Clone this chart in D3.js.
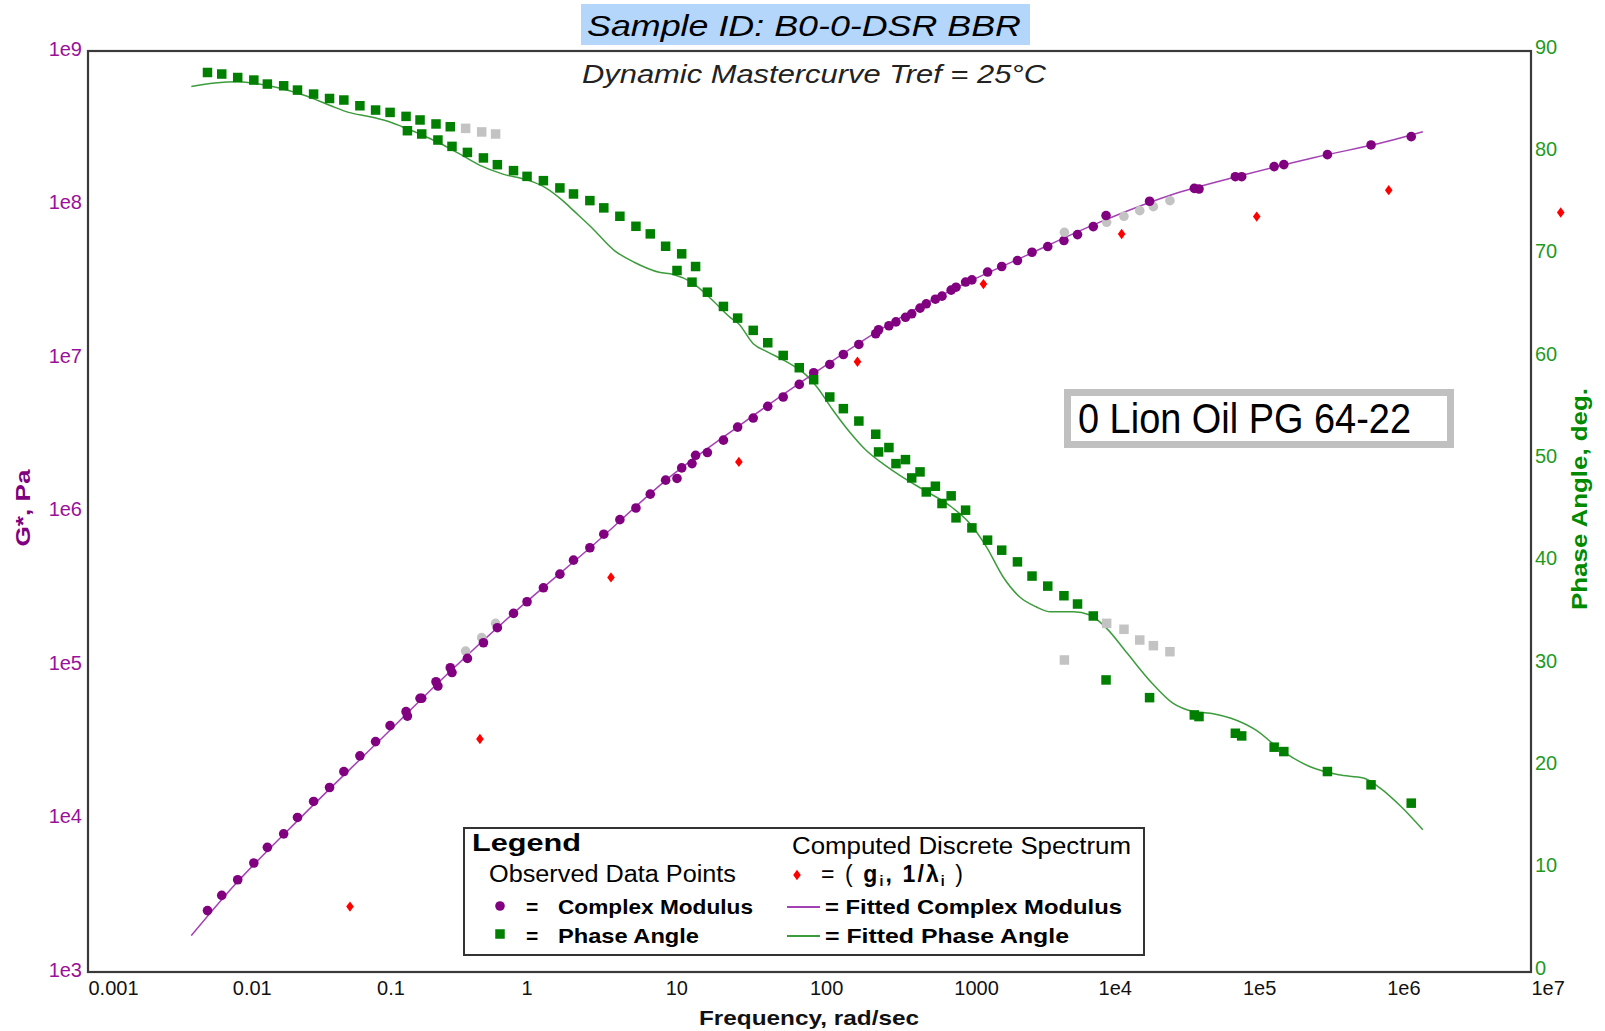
<!DOCTYPE html>
<html><head><meta charset="utf-8">
<script src="https://cdn.jsdelivr.net/npm/d3@7"></script>
<style>body{margin:0;background:#fff}svg{display:block}</style>
</head><body>
<svg id="c" width="1605" height="1031"></svg>
<script>
// ---------- observed data (frequency rad/s, |G*| Pa, phase deg) ----------
const freq = [
 0.00673,0.00845,0.0109,0.0141,0.0175,0.0227,0.0283,0.0366,0.0472,0.0593,0.0766,0.0984,0.124,0.160,0.200,0.258,0.324,0.414,0.535,0.668,
 0.1635,0.2055,0.266,0.333,0.426,0.550,0.687,0.889,1.103,1.432,1.863,2.315,3.006,3.754,4.852,6.270,7.880,10.07,13.01,16.24,
 12.07,15.34,19.60,25.33,31.77,40.73,51.37,65.73,84.92,106.9,138.2,171.7,219.8,287.7,355.1,462.6,583.4,745.4,958.5,1207,
 301.1,397.4,510.9,644.3,828.5,1036,1335,1714,2148,2761,3483,4478,5797,7201,9261,11460,15110,19440,24160,31470,
 5840,11350,22740,46420,89370,166000,50030,98860,193700,388300,778900,1479000
];
const gstar = [
 2512,3155,3990,5129,6486,7943,10160,12910,15920,20230,25590,31700,40270,49660,60670,77800,95940,123300,150700,186600,
 46450,60670,72940,89330,110400,139600,175000,216800,258200,318400,390800,482000,580700,711200,885100,1.054e6,1.297e6,1.600e6,1.923e6,2.323e6,
 1.641e6,2.051e6,2.421e6,2.917e6,3.548e6,4.064e6,4.842e6,5.572e6,6.730e6,8.017e6,9.078e6,1.054e7,1.225e7,1.439e7,1.622e7,1.841e7,2.113e7,2.415e7,2.767e7,3.126e7,
 1.528e7,1.718e7,1.941e7,2.254e7,2.529e7,2.891e7,3.228e7,3.631e7,3.945e7,4.315e7,4.887e7,5.321e7,5.821e7,6.368e7,7.178e7,7.656e7,8.375e7,9.120e7,9.683e7,1.059e8,
 6.592e7,8.472e7,1.050e8,1.274e8,1.517e8,1.766e8,1.262e8,1.517e8,1.820e8,2.113e8,2.443e8,2.767e8
];
const phase = [
 87.90,87.75,87.41,87.16,86.77,86.60,86.18,85.79,85.36,85.21,84.65,84.23,84.00,83.61,83.26,82.87,82.60,82.44,82.09,81.89,
 82.21,81.89,81.30,80.68,80.09,79.55,78.89,78.31,77.75,77.33,76.62,76.03,75.38,74.67,73.85,72.87,72.13,70.92,70.18,68.94,
 68.55,67.41,66.43,65.04,63.90,62.70,61.49,60.25,59.05,57.88,56.19,55.05,53.84,52.55,51.25,50.07,48.87,47.47,46.53,45.13,
 50.82,49.68,48.28,46.91,45.78,44.38,43.40,42.20,41.22,40.08,38.69,37.71,36.77,35.96,34.79,34.07,33.49,32.44,31.89,31.30,
 30.49,28.54,26.81,25.12,23.33,21.97,24.96,23.07,21.54,19.59,18.29,16.50
];
// 1 = point excluded from the fit (drawn grey)
const excluded = [
 0,0,0,0,0,0,0,0,0,0,0,0,0,0,0,0,0,1,1,1,
 0,0,0,0,0,0,0,0,0,0,0,0,0,0,0,0,0,0,0,0,
 0,0,0,0,0,0,0,0,0,0,0,0,0,0,0,0,0,0,0,0,
 0,0,0,0,0,0,0,0,0,0,0,0,0,0,0,1,1,1,1,1,
 1,0,0,0,0,0,0,0,0,0,0,0
];
// ---------- computed discrete spectrum (1/lambda_i, g_i) ----------
const specFreq = [0.0654,0.520,4.21,32.4,215,1605,14560,125700,1.033e6,1.607e7];
const specG    = [2667,32990,372200,2.104e6,9.46e6,3.03e7,6.43e7,8.34e7,1.24e8,8.87e7];
// ---------- fitted curves ----------
const fitGFreq = [0.0052,0.01,0.0316,0.1,0.316,1,3.16,10,31.6,100,316,1000,3162,1e4,31620,1e5,316200,1e6,1.78e6];
const fitG     = [1726,3548,10720,30900,89130,239900,602600,1.585e6,3.548e6,7.586e6,1.549e7,2.818e7,4.645e7,7.586e7,1.148e8,1.549e8,2.023e8,2.570e8,2.979e8];
const fitPFreq = [0.0052,0.00753,0.0109,0.0137,0.0204,0.0323,0.0481,0.0640,0.0899,0.1265,0.1503,0.1995,0.2805,0.3954,0.526,0.7413,1.104,1.466,1.950,2.317,3.076,4.446,6.095,9.078,11.40,15.17,21.33,28.05,32.28,40.74,51.40,69.98,95.28,112.2,145.5,189.7,246.6,322.1,419.8,623.7,926.8,1291,1683,2193,2851,3715,4688,6745,8770,11460,15920,23660,32960,45920,63970,83370,123600,184100,292400,464500,690200,901600,1.256e6,1.78e6];
const fitP     = [86.54,86.87,87.0,86.87,86.44,85.63,84.65,84.0,83.58,83.02,82.60,81.89,80.91,79.77,78.80,77.99,77.40,76.68,75.38,74.40,72.78,70.50,69.36,68.38,68.16,67.41,65.62,63.99,63.35,61.40,60.58,59.60,58.30,57.2,54.9,52.77,50.98,49.68,48.55,47.08,45.62,43.83,41.55,38.62,36.67,35.69,35.20,35.20,34.88,33.58,31.14,28.22,26.27,25.45,25.22,24.80,23.66,21.71,20.08,19.27,18.95,17.97,16.17,13.90];
// ---------- tick labels ----------
const xTickVals = [1e-3,1e-2,1e-1,1,10,100,1000,1e4,1e5,1e6,1e7];
const xTickLabels = ["0.001","0.01","0.1","1","10","100","1000","1e4","1e5","1e6","1e7"];
const yLTickVals = [1e3,1e4,1e5,1e6,1e7,1e8,1e9];
const yLTickLabels = ["1e3","1e4","1e5","1e6","1e7","1e8","1e9"];
const yRTickVals = [0,10,20,30,40,50,60,70,80,90];

// ---------- drawing ----------
const svg = d3.select("#c");
const L=88, R=1531, T=51, B=972;
const x = d3.scaleLog().domain([1e-3,1e7]).range([L,R]);
const yG = d3.scaleLog().domain([1e3,1e9]).range([B,T]);
const yP = d3.scaleLinear().domain([0,90]).range([B,T]);

const PURPLE="#800080", GREEN="#007f00", GREY="#c3c3c3", RED="#ff0000";
const FIT_P="#a441b4", FIT_G="#3c9c3c";
const FONT="'Liberation Sans', Arial, sans-serif";
const NARROW="'Liberation Sans Narrow','Arial Narrow','Liberation Sans',Arial,sans-serif";

svg.append("rect").attr("width",1605).attr("height",1031).attr("fill","#fff");

// title
svg.append("rect").attr("x",581).attr("y",4).attr("width",449).attr("height",41).attr("fill","#b5d6fb");
svg.append("text").attr("x",587).attr("y",36).attr("font-family",FONT).attr("font-style","italic")
  .attr("font-size",30).attr("textLength",434).attr("lengthAdjust","spacingAndGlyphs").attr("fill","#000")
  .text("Sample ID: B0-0-DSR BBR");

// frame
svg.append("rect").attr("x",L).attr("y",T).attr("width",R-L).attr("height",B-T)
  .attr("fill","none").attr("stroke","#3a3a3a").attr("stroke-width",2.2);

// subtitle
svg.append("text").attr("x",582).attr("y",83).attr("font-family",FONT).attr("font-style","italic")
  .attr("font-size",26).attr("textLength",464).attr("lengthAdjust","spacingAndGlyphs").attr("fill","#222")
  .text("Dynamic Mastercurve Tref = 25°C");

// axes
const gx = svg.append("g").attr("transform",`translate(0,${B})`)
  .call(d3.axisBottom(x).tickValues(xTickVals).tickFormat((d,i)=>xTickLabels[i]).tickSize(0).tickPadding(9));
gx.select(".domain").remove();
gx.selectAll("text").attr("text-anchor","start").attr("font-family",FONT).attr("font-size",20).attr("fill","#111");

const gl = svg.append("g").attr("transform",`translate(${L},0)`)
  .call(d3.axisLeft(yG).tickValues(yLTickVals).tickFormat((d,i)=>yLTickLabels[i]).tickSize(0).tickPadding(6));
gl.select(".domain").remove();
gl.selectAll("text").attr("dy","0.2em").attr("font-family",FONT).attr("font-size",20).attr("fill","#9a109a");

const gr = svg.append("g").attr("transform",`translate(${R},0)`)
  .call(d3.axisRight(yP).tickValues(yRTickVals).tickFormat(d3.format("d")).tickSize(0).tickPadding(4));
gr.select(".domain").remove();
gr.selectAll("text").attr("dy","0.1em").attr("font-family",FONT).attr("font-size",20).attr("fill","#1f9a1f");

// axis titles
svg.append("text").attr("transform","translate(30,508) rotate(-90)").attr("text-anchor","middle")
  .attr("font-family",FONT).attr("font-weight","bold").attr("font-size",21).attr("fill",PURPLE)
  .attr("textLength",77).attr("lengthAdjust","spacingAndGlyphs").text("G*, Pa");
svg.append("text").attr("transform","translate(1587,499) rotate(-90)").attr("text-anchor","middle")
  .attr("font-family",FONT).attr("font-weight","bold").attr("font-size",22).attr("fill","#008a00")
  .attr("textLength",222).attr("lengthAdjust","spacingAndGlyphs").text("Phase Angle, deg.");
svg.append("text").attr("x",699).attr("y",1025)
  .attr("font-family",FONT).attr("font-weight","bold").attr("font-size",21).attr("fill","#111")
  .attr("textLength",220).attr("lengthAdjust","spacingAndGlyphs").text("Frequency, rad/sec");

// fitted lines
const fitPData = fitPFreq.map((f,i)=>[f,fitP[i]]);
const fitGData = fitGFreq.map((f,i)=>[f,fitG[i]]);
svg.append("path").datum(fitPData).attr("fill","none").attr("stroke",FIT_G).attr("stroke-width",1.5)
  .attr("d", d3.line().x(d=>x(d[0])).y(d=>yP(d[1])).curve(d3.curveMonotoneX));
svg.append("path").datum(fitGData).attr("fill","none").attr("stroke",FIT_P).attr("stroke-width",1.5)
  .attr("d", d3.line().x(d=>x(d[0])).y(d=>yG(d[1])).curve(d3.curveMonotoneX));

// observed points
const obs = freq.map((f,i)=>({f, g:gstar[i], p:phase[i], ex:excluded[i]}));
svg.append("g").selectAll("circle").data(obs).join("circle")
  .attr("cx",d=>x(d.f)).attr("cy",d=>yG(d.g)).attr("r",4.8)
  .attr("fill",d=>d.ex?GREY:PURPLE);
const S=9.5;
svg.append("g").selectAll("rect").data(obs).join("rect")
  .attr("x",d=>x(d.f)-S/2).attr("y",d=>yP(d.p)-S/2).attr("width",S).attr("height",S)
  .attr("fill",d=>d.ex?GREY:GREEN);

// discrete spectrum diamonds
const diamond = "M0,-5.2L3.8,0L0,5.2L-3.8,0Z";
svg.append("g").selectAll("path").data(specFreq.map((f,i)=>[f,specG[i]])).join("path")
  .attr("transform",d=>`translate(${x(d[0])},${yG(d[1])})`).attr("d",diamond).attr("fill",RED);

// annotation box
svg.append("rect").attr("x",1067.5).attr("y",392.5).attr("width",383).attr("height",52)
  .attr("fill","#fff").attr("stroke","#c0c0c0").attr("stroke-width",7);
svg.append("text").attr("x",1078).attr("y",433).attr("font-family",NARROW).attr("font-size",42)
  .attr("textLength",333).attr("lengthAdjust","spacingAndGlyphs").attr("fill","#000")
  .text("0 Lion Oil PG 64-22");

// legend
const lg = svg.append("g");
lg.append("rect").attr("x",464).attr("y",828).attr("width",680).attr("height",127)
  .attr("fill","#fff").attr("stroke","#333").attr("stroke-width",2);
function lt(xp,yp,txt,size,bold,len){
  const t=lg.append("text").attr("x",xp).attr("y",yp).attr("font-family",FONT).attr("font-size",size)
    .attr("fill","#000").text(txt);
  if(bold) t.attr("font-weight","bold");
  if(len) t.attr("textLength",len).attr("lengthAdjust","spacingAndGlyphs");
  return t;
}
lt(472,851,"Legend",24,true,109);
lt(489,882,"Observed Data Points",23,false,247);
lt(792,854,"Computed Discrete Spectrum",23,false,339);
lg.append("path").attr("transform","translate(797,875)").attr("d",diamond).attr("fill",RED);
const eq = lg.append("text").attr("x",821).attr("y",882).attr("font-family",FONT).attr("font-size",23).attr("fill","#000")
  .attr("textLength",142).attr("lengthAdjust","spacing");
eq.append("tspan").text("= ( ");
eq.append("tspan").attr("font-weight","bold").text("g");
eq.append("tspan").attr("font-weight","bold").attr("font-size",14).attr("dy",4).text("i");
eq.append("tspan").attr("font-weight","bold").attr("dy",-4).text(", 1/λ");
eq.append("tspan").attr("font-weight","bold").attr("font-size",14).attr("dy",4).text("i");
eq.append("tspan").attr("dy",-4).text(" )");

lg.append("circle").attr("cx",500).attr("cy",906).attr("r",4.8).attr("fill",PURPLE);
lt(526,914,"=",21,true);
lt(558,914,"Complex Modulus",21,true,195);
lg.append("rect").attr("x",500-S/2).attr("y",934-S/2).attr("width",S).attr("height",S).attr("fill",GREEN);
lt(526,943,"=",21,true);
lt(558,943,"Phase Angle",21,true,141);

lg.append("line").attr("x1",787).attr("x2",820).attr("y1",907).attr("y2",907).attr("stroke",FIT_P).attr("stroke-width",2);
lt(825,914,"= Fitted Complex Modulus",21,true,297);
lg.append("line").attr("x1",787).attr("x2",820).attr("y1",936).attr("y2",936).attr("stroke",FIT_G).attr("stroke-width",2);
lt(825,943,"= Fitted Phase Angle",21,true,244);
</script>
</body></html>
